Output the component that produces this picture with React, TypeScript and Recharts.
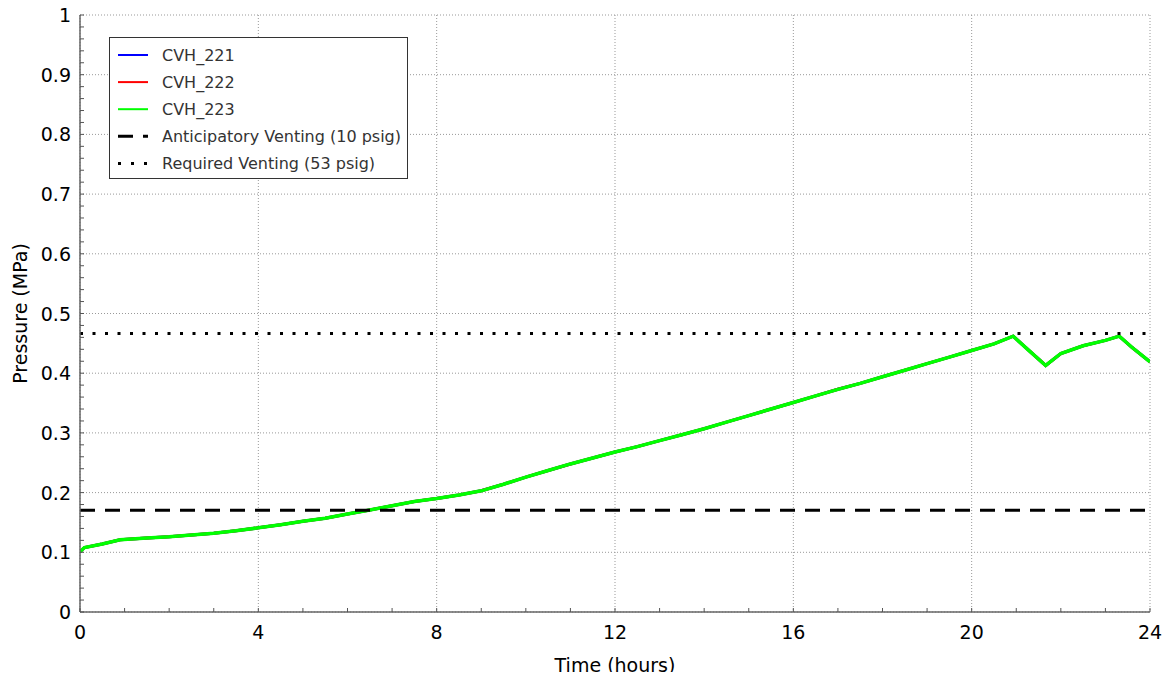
import React from 'react';
import { LineChart, Line, XAxis, YAxis, ReferenceLine, Legend, Label, CartesianGrid } from 'recharts';

// ---- data ----
const times = [0, 0.1, 0.5, 0.9, 1.5, 2, 2.5, 3, 3.5, 4, 4.5, 5, 5.5, 6, 6.5, 7, 7.5, 8, 8.5, 9, 9.5, 10, 10.5, 11, 11.5, 12, 12.5, 13, 13.5, 14, 14.5, 15, 15.5, 16, 16.5, 17, 17.5, 18, 18.5, 19, 19.5, 20, 20.5, 20.93, 21.3, 21.66, 22, 22.5, 23, 23.31, 23.6, 24];
const cvh221 = [0.101, 0.108, 0.114, 0.121, 0.124, 0.126, 0.129, 0.132, 0.136, 0.141, 0.146, 0.152, 0.157, 0.164, 0.171, 0.178, 0.185, 0.19, 0.196, 0.203, 0.214, 0.226, 0.237, 0.248, 0.258, 0.268, 0.277, 0.287, 0.297, 0.307, 0.318, 0.329, 0.34, 0.351, 0.362, 0.373, 0.383, 0.394, 0.405, 0.416, 0.427, 0.438, 0.449, 0.462, 0.437, 0.413, 0.433, 0.446, 0.455, 0.462, 0.443, 0.419];
const cvh222 = [0.101, 0.108, 0.114, 0.121, 0.124, 0.126, 0.129, 0.132, 0.136, 0.141, 0.146, 0.152, 0.157, 0.164, 0.171, 0.178, 0.185, 0.19, 0.196, 0.203, 0.214, 0.226, 0.237, 0.248, 0.258, 0.268, 0.277, 0.287, 0.297, 0.307, 0.318, 0.329, 0.34, 0.351, 0.362, 0.373, 0.383, 0.394, 0.405, 0.416, 0.427, 0.438, 0.449, 0.462, 0.437, 0.413, 0.433, 0.446, 0.455, 0.462, 0.443, 0.419];
const cvh223 = [0.101, 0.108, 0.114, 0.121, 0.124, 0.126, 0.129, 0.132, 0.136, 0.141, 0.146, 0.152, 0.157, 0.164, 0.171, 0.178, 0.185, 0.19, 0.196, 0.203, 0.214, 0.226, 0.237, 0.248, 0.258, 0.268, 0.277, 0.287, 0.297, 0.307, 0.318, 0.329, 0.34, 0.351, 0.362, 0.373, 0.383, 0.394, 0.405, 0.416, 0.427, 0.438, 0.449, 0.462, 0.437, 0.413, 0.433, 0.446, 0.455, 0.462, 0.443, 0.419];

const seriesNames = ['CVH_221', 'CVH_222', 'CVH_223'];
const seriesColors = ['#0000ff', '#ff0000', '#00ff00'];
const refNames = ['Anticipatory Venting (10 psig)', 'Required Venting (53 psig)'];
const anticipatoryVenting = 0.1703;
const requiredVenting = 0.4667;

const xTicks = [0, 1, 2, 3, 4, 5, 6, 7, 8, 9, 10, 11, 12, 13, 14, 15, 16, 17, 18, 19, 20, 21, 22, 23, 24];
const xLabels = [0, 4, 8, 12, 16, 20, 24];
const yTicks = [0, 0.02, 0.04, 0.06, 0.08, 0.1, 0.12, 0.14, 0.16, 0.18, 0.2, 0.22, 0.24, 0.26, 0.28, 0.3, 0.32, 0.34, 0.36, 0.38, 0.4, 0.42, 0.44, 0.46, 0.48, 0.5, 0.52, 0.54, 0.56, 0.58, 0.6, 0.62, 0.64, 0.66, 0.68, 0.7, 0.72, 0.74, 0.76, 0.78, 0.8, 0.82, 0.84, 0.86, 0.88, 0.9, 0.92, 0.94, 0.96, 0.98, 1];
const yLabels = [0, 0.1, 0.2, 0.3, 0.4, 0.5, 0.6, 0.7, 0.8, 0.9, 1];

const data = times.map((t, i) => ({ t, a: cvh221[i], b: cvh222[i], c: cvh223[i] }));

const FONT = 'DejaVu Sans, sans-serif';
const TICK_COLOR = '#555';
const FRAME = '#666';

const isYMajor = (v: number) => yLabels.some((m) => Math.abs(m - v) < 1e-9);

const BottomTick = (props: any) => {
  const { x, y, payload } = props;
  const v = payload.value;
  return (
    <g>
      <line x1={x} y1={y} x2={x} y2={y - 4} stroke={TICK_COLOR} strokeWidth={1} />
      {xLabels.includes(v) && (
        <text x={x} y={y + 27} textAnchor="middle" fontSize={19} fontFamily={FONT} fill="#000">{v}</text>
      )}
    </g>
  );
};
const TopTick = (props: any) => {
  const { x, y } = props;
  return <line x1={x} y1={y} x2={x} y2={y + 4} stroke={TICK_COLOR} strokeWidth={1} />;
};
const LeftTick = (props: any) => {
  const { x, y, payload } = props;
  const v = payload.value;
  return (
    <g>
      <line x1={x} y1={y} x2={x + 4} y2={y} stroke={TICK_COLOR} strokeWidth={1} />
      {isYMajor(v) && (
        <text x={x - 9} y={y + 7} textAnchor="end" fontSize={19} fontFamily={FONT} fill="#000">{String(Math.round(v * 10) / 10)}</text>
      )}
    </g>
  );
};
const RightTick = (props: any) => {
  const { x, y } = props;
  return <line x1={x} y1={y} x2={x - 4} y2={y} stroke={TICK_COLOR} strokeWidth={1} />;
};

const legendItems = [
  { name: seriesNames[0], color: seriesColors[0], w: 2, dash: undefined as string | undefined },
  { name: seriesNames[1], color: seriesColors[1], w: 2, dash: undefined as string | undefined },
  { name: seriesNames[2], color: seriesColors[2], w: 2, dash: undefined as string | undefined },
  { name: refNames[0], color: '#000', w: 3, dash: '15 10' },
  { name: refNames[1], color: '#000', w: 3, dash: '3 10' },
];

const renderLegend = () => (
  <div style={{ width: 299, height: 142, border: '1px solid #333', background: '#fff', boxSizing: 'border-box' }}>
    <svg width={297} height={140} style={{ display: 'block' }}>
      {legendItems.map((it, i) => {
        const cy = 17 + 27.1 * i;
        return (
          <g key={it.name}>
            <line x1={8} x2={38} y1={cy} y2={cy} stroke={it.color} strokeWidth={it.w} strokeDasharray={it.dash} />
            <text x={52} y={cy + 6} fontSize={16} fontFamily={FONT} fill="#333">{it.name}</text>
          </g>
        );
      })}
    </svg>
  </div>
);

const YTitle = (props: any) => {
  const vb = props.viewBox;
  const cx = vb.x + 27;
  const cy = vb.y + vb.height / 2;
  return (
    <text x={cx} y={cy} transform={`rotate(-90, ${cx}, ${cy})`} textAnchor="middle" fontSize={19} fontFamily={FONT} fill="#000">Pressure (MPa)</text>
  );
};
const XTitle = (props: any) => {
  const vb = props.viewBox;
  return (
    <text x={vb.x + vb.width / 2} y={vb.y + 60} textAnchor="middle" fontSize={19} fontFamily={FONT} fill="#000">Time (hours)</text>
  );
};

export default function App() {
  return (
    <div style={{ margin: -8, width: 1171, height: 680, background: '#fff' }}>
      <LineChart width={1171} height={680} data={data} margin={{ top: 15, right: 21, bottom: 0, left: 0 }}>
        <CartesianGrid stroke="#999" strokeDasharray="1 2" horizontalValues={yLabels} verticalValues={xLabels} />
        <XAxis dataKey="t" type="number" domain={[0, 24]} ticks={xTicks} interval={0} tickSize={0} tickMargin={0} tickLine={false} tick={<BottomTick />} height={68} axisLine={{ stroke: FRAME, strokeWidth: 1.5 }} allowDataOverflow>
          <Label content={<XTitle />} />
        </XAxis>
        <XAxis xAxisId="top" orientation="top" type="number" domain={[0, 24]} ticks={xTicks} interval={0} tickSize={0} tickMargin={0} tickLine={false} tick={<TopTick />} height={0} axisLine={{ stroke: FRAME, strokeWidth: 1.5 }} allowDataOverflow />
        <YAxis type="number" domain={[0, 1]} ticks={yTicks} interval={0} tickSize={0} tickMargin={0} tickLine={false} tick={<LeftTick />} width={80} axisLine={{ stroke: FRAME, strokeWidth: 1.5 }} allowDataOverflow>
          <Label content={<YTitle />} />
        </YAxis>
        <YAxis yAxisId="right" orientation="right" type="number" domain={[0, 1]} ticks={yTicks} interval={0} tickSize={0} tickMargin={0} tickLine={false} tick={<RightTick />} width={0} axisLine={{ stroke: FRAME, strokeWidth: 1.5 }} allowDataOverflow />
        <Line dataKey="a" name={seriesNames[0]} stroke={seriesColors[0]} strokeWidth={3} dot={false} isAnimationActive={false} />
        <Line dataKey="b" name={seriesNames[1]} stroke={seriesColors[1]} strokeWidth={3} dot={false} isAnimationActive={false} />
        <Line dataKey="c" name={seriesNames[2]} stroke={seriesColors[2]} strokeWidth={3.5} dot={false} isAnimationActive={false} />
        <ReferenceLine y={anticipatoryVenting} stroke="#000" strokeWidth={3} strokeDasharray="15 10" />
        <ReferenceLine y={requiredVenting} stroke="#000" strokeWidth={3} strokeDasharray="3 9.5" />
        <Legend content={renderLegend} layout="horizontal" verticalAlign="middle" align="center" wrapperStyle={{ left: 109, top: 37, width: 299, height: 142 }} />
      </LineChart>
    </div>
  );
}
